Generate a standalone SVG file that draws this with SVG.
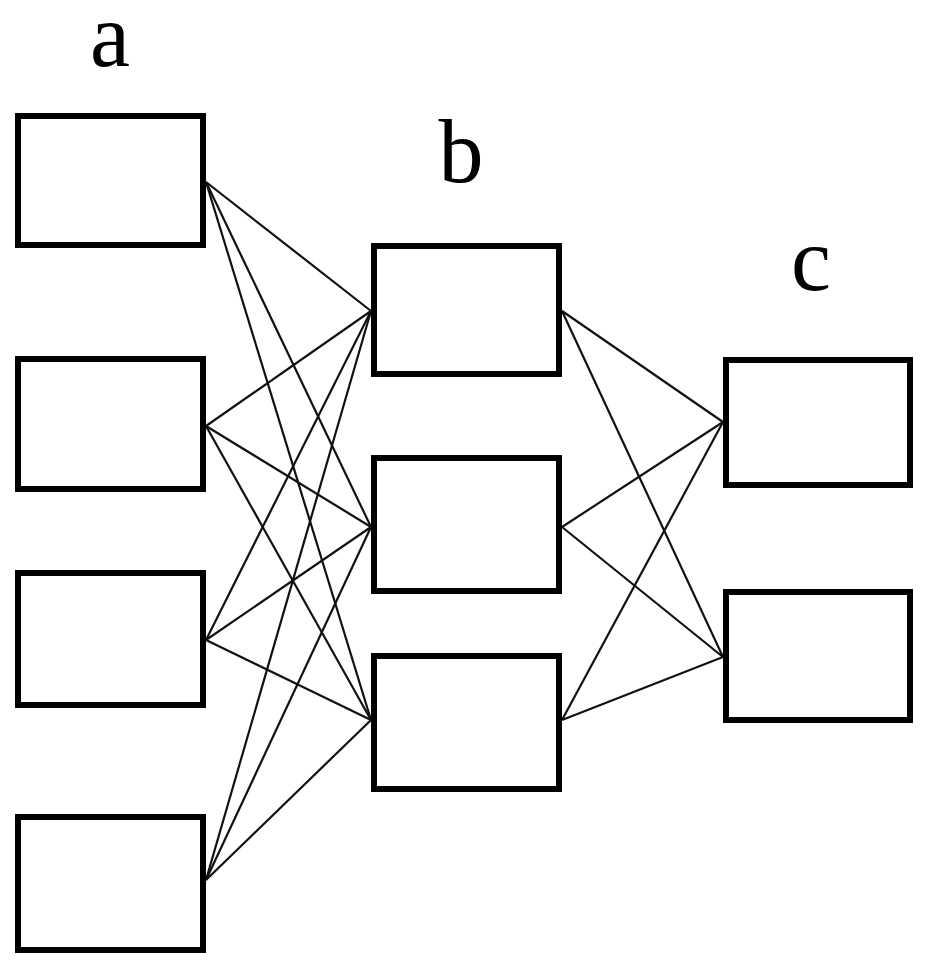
<svg xmlns="http://www.w3.org/2000/svg" width="927" height="968" viewBox="0 0 927 968">
<style>
.box{fill:#fff;stroke:#000;stroke-width:6}
.lbl{font-family:"Liberation Serif","Times New Roman",serif;font-size:90px;fill:#000;text-anchor:middle}
.edges line{stroke:#111;stroke-width:2.2}
</style>
<rect width="927" height="968" fill="#fff"/>
<text class="lbl" x="110" y="66">a</text>
<text class="lbl" x="461" y="182">b</text>
<text class="lbl" x="811" y="290">c</text>
<g class="edges" id="connectors">
<line x1="206" y1="182" x2="371" y2="311"/>
<line x1="206" y1="182" x2="371" y2="527"/>
<line x1="206" y1="182" x2="371" y2="720"/>
<line x1="206" y1="426" x2="371" y2="311"/>
<line x1="206" y1="426" x2="371" y2="527"/>
<line x1="206" y1="426" x2="371" y2="720"/>
<line x1="206" y1="640" x2="371" y2="311"/>
<line x1="206" y1="640" x2="371" y2="527"/>
<line x1="206" y1="640" x2="371" y2="720"/>
<line x1="206" y1="880" x2="371" y2="311"/>
<line x1="206" y1="880" x2="371" y2="527"/>
<line x1="206" y1="880" x2="371" y2="720"/>
<line x1="562" y1="311" x2="723" y2="422"/>
<line x1="562" y1="311" x2="723" y2="657"/>
<line x1="562" y1="527" x2="723" y2="422"/>
<line x1="562" y1="527" x2="723" y2="657"/>
<line x1="562" y1="720" x2="723" y2="422"/>
<line x1="562" y1="720" x2="723" y2="657"/>
</g>
<g id="a1"><rect class="box" x="18" y="116" width="185" height="129"/></g>
<g id="a2"><rect class="box" x="18" y="359" width="185" height="130"/></g>
<g id="a3"><rect class="box" x="18" y="573" width="185" height="132"/></g>
<g id="a4"><rect class="box" x="18" y="817" width="185" height="133"/></g>
<g id="b1"><rect class="box" x="374" y="246" width="185" height="128"/></g>
<g id="b2"><rect class="box" x="374" y="458" width="185" height="133"/></g>
<g id="b3"><rect class="box" x="374" y="656" width="185" height="133"/></g>
<g id="c1"><rect class="box" x="726" y="360" width="184" height="125"/></g>
<g id="c2"><rect class="box" x="726" y="592" width="184" height="128"/></g>
</svg>
